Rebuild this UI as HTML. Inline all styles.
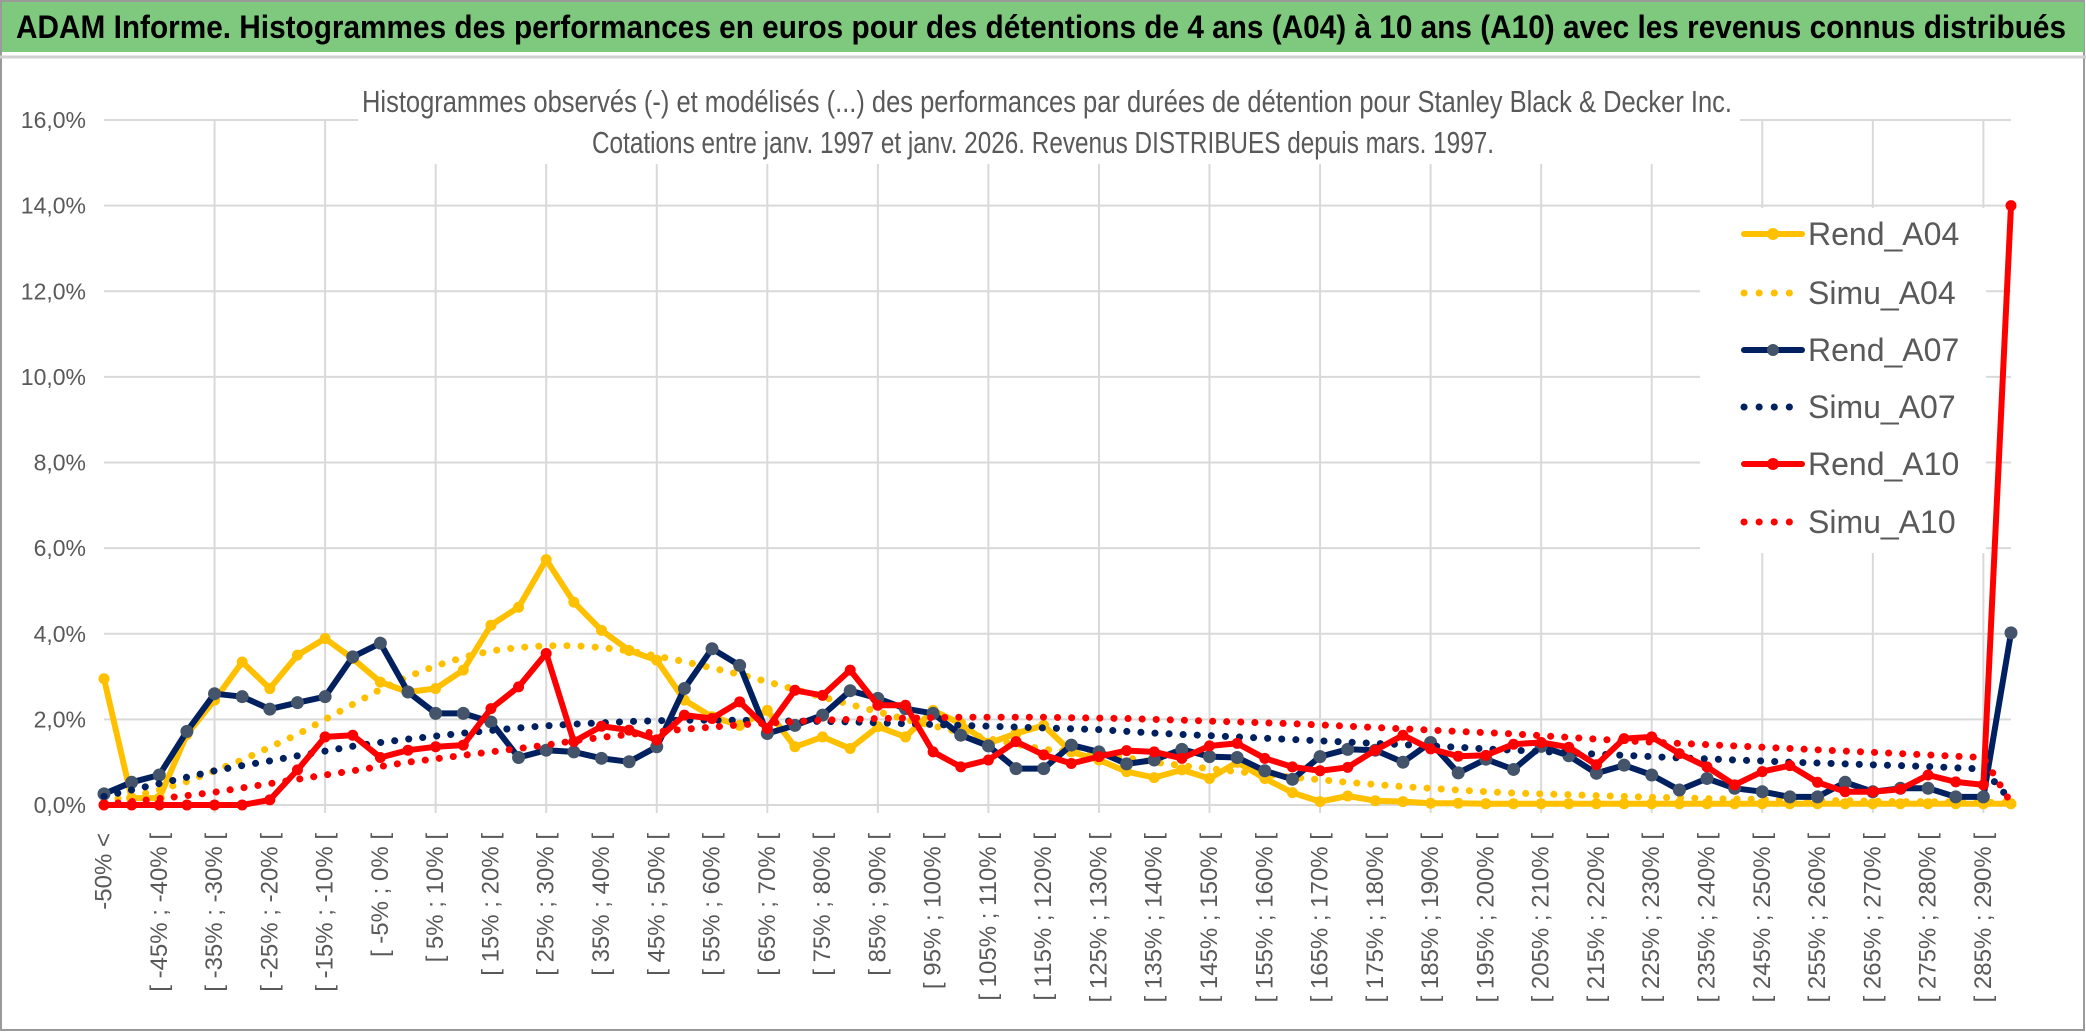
<!DOCTYPE html>
<html><head><meta charset="utf-8"><style>
html,body{margin:0;padding:0;background:#fff;}
svg{display:block;font-family:"Liberation Sans Narrow","Liberation Sans",sans-serif;}
</style></head><body>
<svg id="chart" width="2086" height="1033" viewBox="0 0 2086 1033">
<rect x="0" y="0" width="2086" height="1033" fill="#fff"/>
<rect x="1" y="1" width="2083" height="1029" fill="none" stroke="#9a9a9a" stroke-width="2"/>
<rect x="2" y="2" width="2082" height="50" fill="#7fc97f"/>
<line x1="0" y1="57" x2="2086" y2="57" stroke="#d0d0d0" stroke-width="3"/>
<text x="16" y="38" font-size="32" font-weight="bold" fill="#000" textLength="2050" lengthAdjust="spacingAndGlyphs">ADAM Informe. Histogrammes des performances en euros pour des détentions de 4 ans (A04) à 10 ans (A10) avec les revenus connus distribués</text>
<g id="grid"></g>
<rect x="358" y="80" width="1382" height="84" fill="#fff"/>
<text x="362" y="112" font-size="31" fill="#595959" textLength="1370" lengthAdjust="spacingAndGlyphs">Histogrammes observés (-) et modélisés (...) des performances par durées de détention pour Stanley Black &amp; Decker Inc.</text>
<text x="592" y="153" font-size="31" fill="#595959" textLength="902" lengthAdjust="spacingAndGlyphs">Cotations entre janv. 1997 et janv. 2026. Revenus DISTRIBUES depuis mars. 1997.</text>
<g id="series"></g>
<g id="legend"></g>
</svg>
<script>
const categories = ["-50% <","[ -50% ; -45% [","[ -45% ; -40% [","[ -40% ; -35% [","[ -35% ; -30% [","[ -30% ; -25% [","[ -25% ; -20% [","[ -20% ; -15% [","[ -15% ; -10% [","[ -10% ; -5% [","[ -5% ; 0% [","[ 0% ; 5% [","[ 5% ; 10% [","[ 10% ; 15% [","[ 15% ; 20% [","[ 20% ; 25% [","[ 25% ; 30% [","[ 30% ; 35% [","[ 35% ; 40% [","[ 40% ; 45% [","[ 45% ; 50% [","[ 50% ; 55% [","[ 55% ; 60% [","[ 60% ; 65% [","[ 65% ; 70% [","[ 70% ; 75% [","[ 75% ; 80% [","[ 80% ; 85% [","[ 85% ; 90% [","[ 90% ; 95% [","[ 95% ; 100% [","[ 100% ; 105% [","[ 105% ; 110% [","[ 110% ; 115% [","[ 115% ; 120% [","[ 120% ; 125% [","[ 125% ; 130% [","[ 130% ; 135% [","[ 135% ; 140% [","[ 140% ; 145% [","[ 145% ; 150% [","[ 150% ; 155% [","[ 155% ; 160% [","[ 160% ; 165% [","[ 165% ; 170% [","[ 170% ; 175% [","[ 175% ; 180% [","[ 180% ; 185% [","[ 185% ; 190% [","[ 190% ; 195% [","[ 195% ; 200% [","[ 200% ; 205% [","[ 205% ; 210% [","[ 210% ; 215% [","[ 215% ; 220% [","[ 220% ; 225% [","[ 225% ; 230% [","[ 230% ; 235% [","[ 235% ; 240% [","[ 240% ; 245% [","[ 245% ; 250% [","[ 250% ; 255% [","[ 255% ; 260% [","[ 260% ; 265% [","[ 265% ; 270% [","[ 270% ; 275% [","[ 275% ; 280% [","[ 280% ; 285% [","[ 285% ; 290% [","290% >="];
const yTicks = [0,2,4,6,8,10,12,14,16];
const yTickLabels = ["0,0%","2,0%","4,0%","6,0%","8,0%","10,0%","12,0%","14,0%","16,0%"];
const rendA04 = [2.95,0.16,0.16,1.65,2.45,3.34,2.72,3.5,3.89,3.42,2.87,2.64,2.72,3.15,4.2,4.62,5.73,4.74,4.08,3.61,3.38,2.45,2.06,1.86,2.21,1.36,1.59,1.32,1.83,1.59,2.21,1.9,1.44,1.67,1.86,1.24,1.05,0.78,0.64,0.82,0.62,1.0,0.62,0.29,0.08,0.21,0.1,0.08,0.04,0.04,0.03,0.03,0.03,0.03,0.03,0.03,0.03,0.03,0.03,0.03,0.03,0.03,0.03,0.03,0.03,0.03,0.03,0.03,0.03,0.03];
const simuA04 = [0.1,0.2,0.35,0.55,0.8,1.05,1.35,1.65,2.0,2.35,2.7,3.0,3.25,3.45,3.6,3.68,3.72,3.72,3.68,3.6,3.48,3.35,3.2,3.05,2.88,2.7,2.52,2.35,2.18,2.0,1.85,1.7,1.55,1.42,1.3,1.25,1.2,1.1,1.0,0.92,0.85,0.78,0.72,0.65,0.59,0.53,0.48,0.43,0.39,0.35,0.31,0.28,0.26,0.24,0.22,0.2,0.18,0.17,0.15,0.14,0.13,0.12,0.11,0.1,0.09,0.08,0.08,0.07,0.06,0.06];
const rendA07 = [0.26,0.53,0.7,1.72,2.6,2.53,2.24,2.39,2.53,3.46,3.78,2.64,2.14,2.14,1.94,1.11,1.28,1.24,1.09,1.01,1.36,2.72,3.65,3.26,1.67,1.86,2.1,2.67,2.49,2.25,2.14,1.63,1.38,0.85,0.85,1.4,1.24,0.96,1.05,1.3,1.13,1.11,0.8,0.6,1.13,1.3,1.28,1.0,1.46,0.75,1.07,0.83,1.37,1.15,0.74,0.93,0.7,0.35,0.62,0.39,0.31,0.19,0.19,0.53,0.31,0.39,0.39,0.19,0.19,4.02];
const simuA07 = [0.2,0.35,0.5,0.65,0.8,0.92,1.03,1.15,1.26,1.37,1.46,1.54,1.61,1.68,1.74,1.8,1.85,1.89,1.92,1.95,1.97,1.98,1.98,1.98,1.97,1.96,1.95,1.94,1.92,1.9,1.88,1.86,1.84,1.82,1.8,1.78,1.76,1.72,1.68,1.65,1.62,1.59,1.56,1.53,1.5,1.47,1.44,1.41,1.38,1.35,1.31,1.28,1.25,1.22,1.19,1.16,1.13,1.1,1.08,1.05,1.03,1.0,0.98,0.96,0.94,0.92,0.9,0.87,0.84,0.1];
const rendA10 = [0,0,0,0,0,0,0.12,0.82,1.59,1.63,1.11,1.28,1.36,1.4,2.25,2.76,3.54,1.48,1.84,1.75,1.52,2.1,2.02,2.41,1.79,2.68,2.56,3.15,2.33,2.33,1.24,0.89,1.05,1.48,1.17,0.97,1.13,1.27,1.24,1.09,1.38,1.44,1.09,0.89,0.8,0.88,1.28,1.63,1.31,1.14,1.16,1.42,1.46,1.35,0.94,1.55,1.59,1.2,0.89,0.47,0.78,0.92,0.53,0.31,0.31,0.37,0.7,0.54,0.47,14.0];
const simuA10 = [0.02,0.08,0.15,0.22,0.3,0.4,0.5,0.6,0.7,0.8,0.9,1.0,1.08,1.16,1.24,1.32,1.4,1.5,1.58,1.65,1.71,1.77,1.82,1.87,1.91,1.95,1.98,2.0,2.02,2.03,2.04,2.05,2.05,2.05,2.05,2.04,2.03,2.02,2.0,1.98,1.96,1.94,1.92,1.9,1.87,1.84,1.81,1.78,1.75,1.72,1.69,1.66,1.62,1.58,1.54,1.5,1.47,1.44,1.41,1.38,1.35,1.32,1.29,1.26,1.23,1.2,1.17,1.14,1.11,0.05];
const seriesNames = ["Rend_A04","Simu_A04","Rend_A07","Simu_A07","Rend_A10","Simu_A10"];

const NS = "http://www.w3.org/2000/svg";
const X0 = 104, X1 = 2011, Y0 = 805, Y1 = 120, YMAX = 16;
function xPos(i){ return X0 + (X1 - X0) * i / (categories.length - 1); }
function yPos(v){ return Y0 - (Y0 - Y1) * v / YMAX; }
function mk(tag, attrs, parent){ const e = document.createElementNS(NS, tag); for (const k in attrs) e.setAttribute(k, attrs[k]); parent.appendChild(e); return e; }

const grid = document.getElementById('grid');
yTicks.forEach((t, k) => {
  const l = mk('line', {x1: X0, x2: X1, y1: yPos(t), y2: yPos(t), stroke: '#d9d9d9', 'stroke-width': 2}, grid);
  
  
  const tx = mk('text', {x: 86, y: yPos(t) + 8, 'text-anchor': 'end', 'font-size': 23, fill: '#595959'}, grid);
  tx.textContent = yTickLabels[k];
  
  
});
for (let i = 4; i < categories.length; i += 4) {
  const l = mk('line', {x1: xPos(i), x2: xPos(i), y1: Y1, y2: Y0 + 8, stroke: '#d9d9d9', 'stroke-width': 2}, grid);
  
  
}
categories.forEach((c, i) => {
  if (i % 2 !== 0) return;
  const x = xPos(i), y = 833;
  const tx = mk('text', {x: x, y: y, transform: 'rotate(-90 ' + x + ' ' + y + ')', 'text-anchor': 'end', 'dominant-baseline': 'central', 'font-size': 24, fill: '#595959', 'font-family': '"Liberation Sans", sans-serif'}, grid);
  tx.textContent = c;
  
  
});

const sg = document.getElementById('series');
function pts(arr){ return arr.map((v, i) => xPos(i).toFixed(1) + ',' + yPos(v).toFixed(1)).join(' '); }
function dotted(arr, color, name){
  const p = mk('polyline', {points: pts(arr), fill: 'none', stroke: color, 'stroke-width': 7, 'stroke-linecap': 'round', 'stroke-dasharray': '0.1 14'}, sg);
  
  
}
function solid(arr, color, mcolor, r, name){
  const p = mk('polyline', {points: pts(arr), fill: 'none', stroke: color, 'stroke-width': 6, 'stroke-linejoin': 'round'}, sg);
  
  
  arr.forEach((v, i) => {
    const c = mk('circle', {cx: xPos(i), cy: yPos(v), r: r, fill: mcolor}, sg);
    
    
  });
}
solid(rendA04, '#ffc000', '#ffc000', 5.5, 'rend-a04-line');
dotted(simuA04, '#ffc000', 'simu-a04-line');
solid(rendA07, '#002060', '#44546a', 6.5, 'rend-a07-line');
dotted(simuA07, '#002060', 'simu-a07-line');
solid(rendA10, '#ff0000', '#ff0000', 5.5, 'rend-a10-line');
dotted(simuA10, '#ff0000', 'simu-a10-line');

const lg = document.getElementById('legend');
const bg = mk('rect', {x: 1700, y: 208, width: 286, height: 345, fill: '#fff'}, lg);


const legColors = ['#ffc000','#ffc000','#002060','#002060','#ff0000','#ff0000'];
const legMarker = ['#ffc000','#ffc000','#44546a','#002060','#ff0000','#ff0000'];
const legY = [234, 293, 350, 407, 464, 522];
seriesNames.forEach((n, k) => {
  const y = legY[k];
  const g = mk('g', {}, lg);
  
  
  if (k % 2 === 0) {
    mk('line', {x1: 1744, x2: 1802, y1: y, y2: y, stroke: legColors[k], 'stroke-width': 6, 'stroke-linecap': 'round'}, g);
    mk('circle', {cx: 1773, cy: y, r: 6, fill: legMarker[k]}, g);
  } else {
    mk('line', {x1: 1744, x2: 1790, y1: y, y2: y, stroke: legColors[k], 'stroke-width': 7, 'stroke-linecap': 'round', 'stroke-dasharray': '0.1 15'}, g);
  }
  const t = mk('text', {x: 1808, y: y + 11, 'font-size': 32, fill: '#595959'}, g);
  t.textContent = n;
});
</script>
</body></html>
